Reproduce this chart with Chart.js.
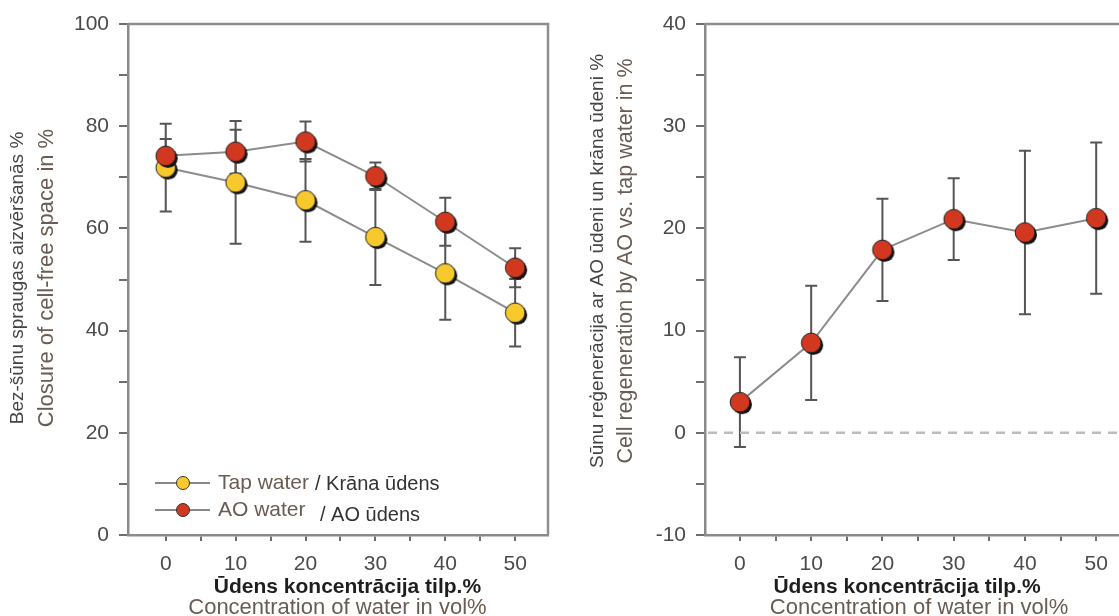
<!DOCTYPE html>
<html>
<head>
<meta charset="utf-8">
<script src="https://cdn.jsdelivr.net/npm/chart.js@4.4.0/dist/chart.umd.min.js"></script>
<style>
html, body { margin: 0; padding: 0; background: #fff; overflow: hidden; }
#wrap { position: relative; width: 1119px; height: 616px; overflow: hidden; }
canvas { position: absolute; top: 0; }
#left { left: 0; }
#right { left: 560px; }
</style>
</head>
<body>
<div id="wrap">
  <canvas id="left" width="560" height="616"></canvas>
  <canvas id="right" width="571" height="616"></canvas>
</div>
<script>
// values
const concentrations = [0, 10, 20, 30, 40, 50];
const tapMean = [71.9, 69.0, 65.5, 58.3, 51.2, 43.5];
const tapErr  = [8.6, 12.0, 8.1, 9.4, 9.1, 6.6];
const aoMean  = [74.2, 75.0, 77.0, 70.2, 61.3, 52.3];
const aoErr   = [3.3, 4.3, 3.9, 2.7, 4.7, 3.8];
const regenMean = [3.0, 8.8, 17.9, 20.9, 19.6, 21.0];
const regenErr  = [4.4, 5.6, 5.0, 4.0, 8.0, 7.4];

const xTicks = [0, 5, 10, 15, 20, 25, 30, 35, 40, 45, 50];
const closureTicks = [0, 10, 20, 30, 40, 50, 60, 70, 80, 90, 100];
const regenTicks = [-10, -5, 0, 5, 10, 15, 20, 25, 30, 35, 40];

const FONT = "'Liberation Sans', Arial, sans-serif";
Chart.defaults.font.family = FONT;
Chart.defaults.animation = false;

const RED = '#d2381f';
const YELLOW = '#f8c92c';

function makeMarker(fill, r) {
    const c = document.createElement('canvas');
    const size = Math.ceil(r * 2 + 8);
    c.width = c.height = size;
    const g = c.getContext('2d');
    const m = size / 2;
    g.fillStyle = '#111';
    g.beginPath(); g.arc(m + 2.2, m + 2.2, r, 0, Math.PI * 2); g.fill();
    g.fillStyle = fill; g.strokeStyle = '#222'; g.lineWidth = 1;
    g.beginPath(); g.arc(m, m, r, 0, Math.PI * 2); g.fill(); g.stroke();
    return c;
}

function points(xs, ys) {
    return xs.map((x, i) => ({ x: x, y: ys[i] }));
}

// error bars drawn under the lines and markers
const errorBars = {
    id: 'errorBars',
    beforeDatasetsDraw(chart) {
        const ctx = chart.ctx, xs = chart.scales.x, ys = chart.scales.y;
        ctx.save();
        ctx.strokeStyle = '#555';
        ctx.lineWidth = 2;
        chart.data.datasets.forEach(ds => {
            ds.data.forEach((p, i) => {
                const e = ds.errors[i];
                const x = xs.getPixelForValue(p.x);
                const top = ys.getPixelForValue(p.y + e);
                const bot = ys.getPixelForValue(p.y - e);
                ctx.beginPath();
                ctx.moveTo(x, top); ctx.lineTo(x, bot);
                ctx.moveTo(x - 6, top); ctx.lineTo(x + 6, top);
                ctx.moveTo(x - 6, bot); ctx.lineTo(x + 6, bot);
                ctx.stroke();
            });
        });
        ctx.restore();
    }
};

const extras = {
    id: 'extras',
    beforeDatasetsDraw(chart, args, opts) {
        if (!opts.zeroLine) return;
        const { ctx, chartArea: a } = chart;
        const y = chart.scales.y.getPixelForValue(0);
        ctx.save();
        ctx.strokeStyle = '#bdbdbd';
        ctx.lineWidth = 2.5;
        ctx.setLineDash([9, 7]);
        ctx.beginPath(); ctx.moveTo(a.left + 3, y); ctx.lineTo(a.right, y); ctx.stroke();
        ctx.restore();
    },
    afterDraw(chart, args, opts) {
        const { ctx, chartArea: a } = chart;
        const xs = chart.scales.x;
        ctx.save();
        // frame (top, and right when visible)
        ctx.strokeStyle = '#8e8e8e';
        ctx.lineWidth = 2.5;
        ctx.beginPath();
        ctx.moveTo(a.left, a.top); ctx.lineTo(a.right, a.top);
        if (opts.rightBorder) ctx.lineTo(a.right, a.bottom);
        ctx.stroke();

        // x titles
        const cx = xs.getPixelForValue(25);
        ctx.textAlign = 'center';
        ctx.textBaseline = 'alphabetic';
        ctx.fillStyle = '#1e1e1e';
        ctx.font = 'bold 21px ' + FONT;
        ctx.fillText('Ūdens koncentrācija tilp.%', cx + opts.boldDx, 593);
        ctx.fillStyle = '#6a5c52';
        ctx.font = '22px ' + FONT;
        ctx.fillText('Concentration of water in vol%', cx + opts.enDx, 614);

        // y titles
        const t = opts.yTitle;
        ctx.save();
        ctx.translate(t.x1, t.cy);
        ctx.rotate(-Math.PI / 2);
        ctx.textBaseline = 'middle';
        ctx.fillStyle = '#444';
        ctx.font = t.size1 + 'px ' + FONT;
        ctx.fillText(t.lv, 0, 0);
        ctx.restore();
        ctx.save();
        ctx.translate(t.x2, t.cy);
        ctx.rotate(-Math.PI / 2);
        ctx.textBaseline = 'middle';
        ctx.fillStyle = '#6a5c52';
        ctx.font = t.size2 + 'px ' + FONT;
        ctx.fillText(t.en, 0, 0);
        ctx.restore();

        // legend
        if (opts.legend) {
            const rows = [
                { fill: YELLOW, en: 'Tap water', lv: '/ Krāna ūdens', y: a.bottom - 52, lvx: 315, dy: 0 },
                { fill: RED, en: 'AO water', lv: '/ AO ūdens', y: a.bottom - 25, lvx: 320, dy: 4 }
            ];
            rows.forEach(r => {
                ctx.strokeStyle = '#888';
                ctx.lineWidth = 2;
                ctx.beginPath(); ctx.moveTo(155, r.y); ctx.lineTo(210, r.y); ctx.stroke();
                ctx.fillStyle = r.fill; ctx.strokeStyle = '#333'; ctx.lineWidth = 1;
                ctx.beginPath(); ctx.arc(183, r.y, 6.5, 0, Math.PI * 2); ctx.fill(); ctx.stroke();
                ctx.textAlign = 'left';
                ctx.textBaseline = 'middle';
                ctx.fillStyle = '#6a5c52';
                ctx.font = '21px ' + FONT;
                ctx.fillText(r.en, 218, r.y);
                ctx.fillStyle = '#333';
                ctx.font = '20px ' + FONT;
                ctx.fillText(r.lv, r.lvx, r.y + 1 + r.dy);
            });
        }
        ctx.restore();
    }
};

function axes(yTicks, yMin, yMax, yLabelStep, yWidth, xMin, xMax) {
    const tickGrid = { drawOnChartArea: false, drawTicks: true, color: '#6e6e6e', lineWidth: 2 };
    return {
        x: {
            type: 'linear', min: xMin, max: xMax,
            afterBuildTicks: s => { s.ticks = xTicks.map(v => ({ value: v })); },
            afterFit: s => { s.height = 616 - 535; },
            grid: Object.assign({ tickLength: 6 }, tickGrid),
            border: { color: '#8a8a8a', width: 2.5 },
            ticks: {
                maxRotation: 0, autoSkip: false, padding: 11,
                color: '#4b4b4b', font: { size: 21 },
                callback: v => (v % 10 === 0 ? String(v) : '')
            }
        },
        y: {
            min: yMin, max: yMax,
            afterBuildTicks: s => { s.ticks = yTicks.map(v => ({ value: v })); },
            afterFit: s => { s.width = yWidth; },
            grid: Object.assign({ tickLength: 9 }, tickGrid),
            border: { color: '#8a8a8a', width: 2.5 },
            ticks: {
                autoSkip: false, padding: 10,
                color: '#4b4b4b', font: { size: 21 },
                callback: v => (v % yLabelStep === 0 ? String(v) : '')
            }
        }
    };
}

const redMarker = makeMarker(RED, 9.8);
const yellowMarker = makeMarker(YELLOW, 9.8);

new Chart(document.getElementById('left').getContext('2d'), {
    type: 'line',
    data: {
        datasets: [
            {
                label: 'AO water / AO ūdens',
                data: points(concentrations, aoMean),
                errors: aoErr,
                borderColor: '#8c8c8c', borderWidth: 2,
                pointStyle: redMarker, pointRadius: 10
            },
            {
                label: 'Tap water / Krāna ūdens',
                data: points(concentrations, tapMean),
                errors: tapErr,
                borderColor: '#8c8c8c', borderWidth: 2,
                pointStyle: yellowMarker, pointRadius: 10
            }
        ]
    },
    options: {
        responsive: false,
        layout: { padding: { left: 0, top: 24, right: 12, bottom: 0 } },
        scales: axes(closureTicks, 0, 100, 20, 128, -5.4, 54.7),
        plugins: {
            legend: { display: false },
            tooltip: { enabled: false },
            extras: {
                rightBorder: true, legend: true, zeroLine: false,
                boldDx: 7, enDx: -3,
                yTitle: {
                    x1: 18, x2: 47, cy: 278, size1: 19, size2: 22,
                    lv: 'Bez-šūnu spraugas aizvēršanās %',
                    en: 'Closure of cell-free space in %'
                }
            }
        }
    },
    plugins: [errorBars, extras]
});

// canvas is 12px wider than the window so the plot area runs to the edge
new Chart(document.getElementById('right').getContext('2d'), {
    type: 'line',
    data: {
        datasets: [
            {
                label: 'Cell regeneration by AO vs. tap water',
                data: points(concentrations, regenMean),
                errors: regenErr,
                borderColor: '#8c8c8c', borderWidth: 2,
                pointStyle: redMarker, pointRadius: 10
            }
        ]
    },
    options: {
        responsive: false,
        layout: { padding: { left: 0, top: 24, right: 0, bottom: 0 } },
        scales: axes(regenTicks, -10, 40, 10, 145, -4.9, 53.2),
        plugins: {
            legend: { display: false },
            tooltip: { enabled: false },
            extras: {
                rightBorder: false, legend: false, zeroLine: true,
                boldDx: -11, enDx: 1,
                yTitle: {
                    x1: 38, x2: 66, cy: 261, size1: 19, size2: 21.5,
                    lv: 'Sūnu reģenerācija ar AO ūdeni un krāna ūdeni %',
                    en: 'Cell regeneration by AO vs. tap water in %'
                }
            }
        }
    },
    plugins: [errorBars, extras]
});
</script>
</body>
</html>
